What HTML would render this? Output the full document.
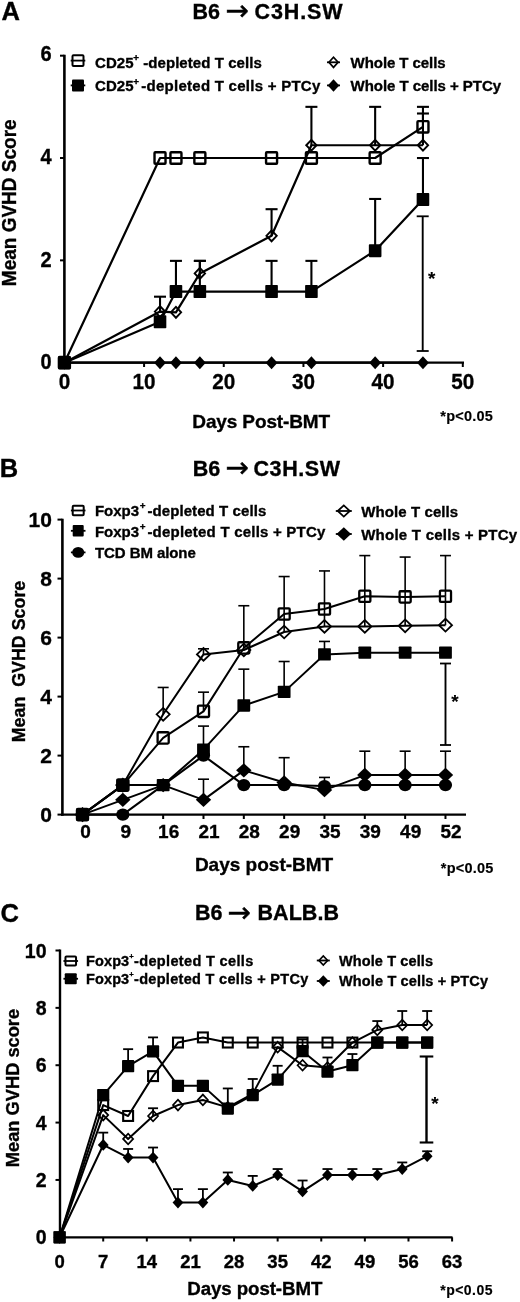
<!DOCTYPE html>
<html><head><meta charset="utf-8"><title>GVHD figure</title>
<style>html,body{margin:0;padding:0;background:#fff}svg{display:block}</style></head><body>
<svg width="520" height="1302" viewBox="0 0 520 1302" font-family="Liberation Sans, Arial, sans-serif" font-weight="bold" fill="#000">
<defs><filter id="soft" x="0" y="0" width="100%" height="100%" filterUnits="userSpaceOnUse"><feGaussianBlur stdDeviation="0.45"/></filter></defs>
<rect width="520" height="1302" fill="#fff"/>
<g filter="url(#soft)">
<g id="panelA">
<text transform="translate(1.50,20.00)" font-size="25.5" text-anchor="start" stroke="#000" stroke-width="0.35" >A</text>
<text y="18.80" font-size="21.5" stroke="#000" stroke-width="0.35"><tspan x="192.60">B6</tspan><tspan x="225.50" dy="1.2" font-family="DejaVu Sans, sans-serif" font-weight="normal" font-size="27.9" stroke-width="0.5">→</tspan><tspan x="254.60" dy="-1.2" textLength="87.9" lengthAdjust="spacing">C3H.SW</tspan></text>
<line x1="64.40" y1="54.80" x2="64.40" y2="363.80" stroke="#000" stroke-width="2.6" />
<line x1="63.10" y1="362.70" x2="464.00" y2="362.70" stroke="#000" stroke-width="2.2" />
<line x1="60.00" y1="362.70" x2="64.40" y2="362.70" stroke="#000" stroke-width="2" />
<text transform="translate(51.60,368.90) scale(0.93,1)" font-size="21.5" text-anchor="end" stroke="#000" stroke-width="0.35" >0</text>
<line x1="60.00" y1="260.36" x2="64.40" y2="260.36" stroke="#000" stroke-width="2" />
<text transform="translate(51.60,266.56) scale(0.93,1)" font-size="21.5" text-anchor="end" stroke="#000" stroke-width="0.35" >2</text>
<line x1="60.00" y1="158.02" x2="64.40" y2="158.02" stroke="#000" stroke-width="2" />
<text transform="translate(51.60,164.22) scale(0.93,1)" font-size="21.5" text-anchor="end" stroke="#000" stroke-width="0.35" >4</text>
<line x1="60.00" y1="55.68" x2="64.40" y2="55.68" stroke="#000" stroke-width="2" />
<text transform="translate(51.60,61.20) scale(0.93,1)" font-size="21.5" text-anchor="end" stroke="#000" stroke-width="0.35" >6</text>
<line x1="64.40" y1="362.70" x2="64.40" y2="367.00" stroke="#000" stroke-width="2" />
<text transform="translate(64.40,389.10) scale(0.94,1)" font-size="22" text-anchor="middle" stroke="#000" stroke-width="0.35" >0</text>
<line x1="144.08" y1="362.70" x2="144.08" y2="367.00" stroke="#000" stroke-width="2" />
<text transform="translate(144.08,389.10) scale(0.94,1)" font-size="22" text-anchor="middle" stroke="#000" stroke-width="0.35" >10</text>
<line x1="223.76" y1="362.70" x2="223.76" y2="367.00" stroke="#000" stroke-width="2" />
<text transform="translate(223.76,389.10) scale(0.94,1)" font-size="22" text-anchor="middle" stroke="#000" stroke-width="0.35" >20</text>
<line x1="303.44" y1="362.70" x2="303.44" y2="367.00" stroke="#000" stroke-width="2" />
<text transform="translate(303.44,389.10) scale(0.94,1)" font-size="22" text-anchor="middle" stroke="#000" stroke-width="0.35" >30</text>
<line x1="383.12" y1="362.70" x2="383.12" y2="367.00" stroke="#000" stroke-width="2" />
<text transform="translate(383.12,389.10) scale(0.94,1)" font-size="22" text-anchor="middle" stroke="#000" stroke-width="0.35" >40</text>
<line x1="462.80" y1="362.70" x2="462.80" y2="367.00" stroke="#000" stroke-width="2" />
<text transform="translate(462.80,389.10) scale(0.94,1)" font-size="22" text-anchor="middle" stroke="#000" stroke-width="0.35" >50</text>
<text transform="translate(16.10,202.80) rotate(-90) scale(0.95,1)" font-size="20" text-anchor="middle" textLength="175.58" lengthAdjust="spacing" stroke="#000" stroke-width="0.35" >Mean GVHD Score</text>
<text transform="translate(192.30,427.60)" font-size="19" text-anchor="start" textLength="137.80" lengthAdjust="spacing" stroke="#000" stroke-width="0.35" >Days Post-BMT</text>
<text transform="translate(440.30,420.80)" font-size="14.5" text-anchor="start" textLength="52.60" lengthAdjust="spacing" stroke="#000" stroke-width="0.15" >*p&lt;0.05</text>
<polyline points="64.40,362.70 160.02,362.70 175.95,362.70 199.86,362.70 271.57,362.70 311.41,362.70 375.15,362.70 422.96,362.70" fill="none" stroke="#000" stroke-width="2.2" stroke-linejoin="round"/>
<polygon points="58.50,362.70 64.40,356.20 70.30,362.70 64.40,369.20" fill="#000"/>
<polygon points="154.12,362.70 160.02,356.20 165.92,362.70 160.02,369.20" fill="#000"/>
<polygon points="170.05,362.70 175.95,356.20 181.85,362.70 175.95,369.20" fill="#000"/>
<polygon points="193.96,362.70 199.86,356.20 205.76,362.70 199.86,369.20" fill="#000"/>
<polygon points="265.67,362.70 271.57,356.20 277.47,362.70 271.57,369.20" fill="#000"/>
<polygon points="305.51,362.70 311.41,356.20 317.31,362.70 311.41,369.20" fill="#000"/>
<polygon points="369.25,362.70 375.15,356.20 381.05,362.70 375.15,369.20" fill="#000"/>
<polygon points="417.06,362.70 422.96,356.20 428.86,362.70 422.96,369.20" fill="#000"/>
<line x1="422.96" y1="126.81" x2="422.96" y2="106.85" stroke="#000" stroke-width="2.1" />
<line x1="416.96" y1="106.85" x2="428.96" y2="106.85" stroke="#000" stroke-width="2.1" />
<polyline points="64.40,362.70 160.02,158.02 175.95,158.02 199.86,158.02 271.57,158.02 311.41,158.02 375.15,158.02 422.96,126.81" fill="none" stroke="#000" stroke-width="2.2" stroke-linejoin="round"/>
<rect x="58.90" y="357.00" width="11.00" height="11.40" rx="0.8" fill="none" stroke="#000" stroke-width="2.4"/>
<rect x="154.52" y="152.32" width="11.00" height="11.40" rx="0.8" fill="none" stroke="#000" stroke-width="2.4"/>
<rect x="170.45" y="152.32" width="11.00" height="11.40" rx="0.8" fill="none" stroke="#000" stroke-width="2.4"/>
<rect x="194.36" y="152.32" width="11.00" height="11.40" rx="0.8" fill="none" stroke="#000" stroke-width="2.4"/>
<rect x="266.07" y="152.32" width="11.00" height="11.40" rx="0.8" fill="none" stroke="#000" stroke-width="2.4"/>
<rect x="305.91" y="152.32" width="11.00" height="11.40" rx="0.8" fill="none" stroke="#000" stroke-width="2.4"/>
<rect x="369.65" y="152.32" width="11.00" height="11.40" rx="0.8" fill="none" stroke="#000" stroke-width="2.4"/>
<rect x="417.46" y="121.11" width="11.00" height="11.40" rx="0.8" fill="none" stroke="#000" stroke-width="2.4"/>
<line x1="160.02" y1="311.53" x2="160.02" y2="296.69" stroke="#000" stroke-width="2.1" />
<line x1="154.02" y1="296.69" x2="166.02" y2="296.69" stroke="#000" stroke-width="2.1" />
<line x1="199.86" y1="273.41" x2="199.86" y2="260.87" stroke="#000" stroke-width="2.1" />
<line x1="193.86" y1="260.87" x2="205.86" y2="260.87" stroke="#000" stroke-width="2.1" />
<line x1="271.57" y1="235.80" x2="271.57" y2="209.19" stroke="#000" stroke-width="2.1" />
<line x1="265.57" y1="209.19" x2="277.57" y2="209.19" stroke="#000" stroke-width="2.1" />
<line x1="311.41" y1="145.23" x2="311.41" y2="106.85" stroke="#000" stroke-width="2.1" />
<line x1="305.41" y1="106.85" x2="317.41" y2="106.85" stroke="#000" stroke-width="2.1" />
<line x1="375.15" y1="145.23" x2="375.15" y2="106.85" stroke="#000" stroke-width="2.1" />
<line x1="369.15" y1="106.85" x2="381.15" y2="106.85" stroke="#000" stroke-width="2.1" />
<line x1="422.96" y1="145.23" x2="422.96" y2="113.50" stroke="#000" stroke-width="2.1" />
<line x1="416.96" y1="113.50" x2="428.96" y2="113.50" stroke="#000" stroke-width="2.1" />
<polyline points="64.40,362.70 160.02,311.53 175.95,312.30 199.86,273.41 271.57,235.80 311.41,145.23 375.15,145.23 422.96,145.23" fill="none" stroke="#000" stroke-width="2.2" stroke-linejoin="round"/>
<polygon points="59.23,362.70 64.40,357.23 69.57,362.70 64.40,368.17" fill="none" stroke="#000" stroke-width="1.9"/>
<polygon points="154.85,311.53 160.02,306.06 165.19,311.53 160.02,317.00" fill="none" stroke="#000" stroke-width="1.9"/>
<polygon points="170.78,312.30 175.95,306.83 181.12,312.30 175.95,317.77" fill="none" stroke="#000" stroke-width="1.9"/>
<polygon points="194.69,273.41 199.86,267.94 205.03,273.41 199.86,278.88" fill="none" stroke="#000" stroke-width="1.9"/>
<polygon points="266.40,235.80 271.57,230.33 276.74,235.80 271.57,241.27" fill="none" stroke="#000" stroke-width="1.9"/>
<polygon points="306.24,145.23 311.41,139.76 316.58,145.23 311.41,150.70" fill="none" stroke="#000" stroke-width="1.9"/>
<polygon points="369.98,145.23 375.15,139.76 380.32,145.23 375.15,150.70" fill="none" stroke="#000" stroke-width="1.9"/>
<polygon points="417.79,145.23 422.96,139.76 428.13,145.23 422.96,150.70" fill="none" stroke="#000" stroke-width="1.9"/>
<line x1="175.95" y1="291.57" x2="175.95" y2="260.87" stroke="#000" stroke-width="2.1" />
<line x1="169.95" y1="260.87" x2="181.95" y2="260.87" stroke="#000" stroke-width="2.1" />
<line x1="199.86" y1="291.57" x2="199.86" y2="260.87" stroke="#000" stroke-width="2.1" />
<line x1="193.86" y1="260.87" x2="205.86" y2="260.87" stroke="#000" stroke-width="2.1" />
<line x1="271.57" y1="291.57" x2="271.57" y2="260.87" stroke="#000" stroke-width="2.1" />
<line x1="265.57" y1="260.87" x2="277.57" y2="260.87" stroke="#000" stroke-width="2.1" />
<line x1="311.41" y1="291.57" x2="311.41" y2="260.87" stroke="#000" stroke-width="2.1" />
<line x1="305.41" y1="260.87" x2="317.41" y2="260.87" stroke="#000" stroke-width="2.1" />
<line x1="375.15" y1="250.64" x2="375.15" y2="198.96" stroke="#000" stroke-width="2.1" />
<line x1="369.15" y1="198.96" x2="381.15" y2="198.96" stroke="#000" stroke-width="2.1" />
<line x1="422.96" y1="199.47" x2="422.96" y2="158.02" stroke="#000" stroke-width="2.1" />
<line x1="416.96" y1="158.02" x2="428.96" y2="158.02" stroke="#000" stroke-width="2.1" />
<polyline points="64.40,362.70 160.02,321.76 175.95,291.57 199.86,291.57 271.57,291.57 311.41,291.57 375.15,250.64 422.96,199.47" fill="none" stroke="#000" stroke-width="2.2" stroke-linejoin="round"/>
<rect x="58.10" y="356.20" width="12.60" height="13.00" rx="0.8" fill="#000"/>
<rect x="153.72" y="315.26" width="12.60" height="13.00" rx="0.8" fill="#000"/>
<rect x="169.65" y="285.07" width="12.60" height="13.00" rx="0.8" fill="#000"/>
<rect x="193.56" y="285.07" width="12.60" height="13.00" rx="0.8" fill="#000"/>
<rect x="265.27" y="285.07" width="12.60" height="13.00" rx="0.8" fill="#000"/>
<rect x="305.11" y="285.07" width="12.60" height="13.00" rx="0.8" fill="#000"/>
<rect x="368.85" y="244.14" width="12.60" height="13.00" rx="0.8" fill="#000"/>
<rect x="416.66" y="192.97" width="12.60" height="13.00" rx="0.8" fill="#000"/>
<line x1="422.70" y1="216.30" x2="422.70" y2="351.00" stroke="#000" stroke-width="1.9" />
<line x1="416.70" y1="216.30" x2="428.70" y2="216.30" stroke="#000" stroke-width="1.8" />
<line x1="416.70" y1="351.00" x2="428.70" y2="351.00" stroke="#000" stroke-width="1.8" />
<text transform="translate(431.70,284.50)" font-size="19" text-anchor="middle" stroke="#000" stroke-width="0.1" >*</text>
<line x1="70.70" y1="60.60" x2="85.30" y2="60.60" stroke="#000" stroke-width="1.8" />
<rect x="72.50" y="55.20" width="11.00" height="10.80" rx="1" fill="none" stroke="#000" stroke-width="2.0"/>
<line x1="70.70" y1="85.40" x2="85.30" y2="85.40" stroke="#000" stroke-width="1.8" />
<rect x="72.00" y="79.40" width="12.00" height="12.00" rx="1" fill="#000"/>
<line x1="327.00" y1="62.30" x2="340.00" y2="62.30" stroke="#000" stroke-width="1.8" />
<polygon points="328.94,62.30 333.50,57.24 338.06,62.30 333.50,67.36" fill="none" stroke="#000" stroke-width="1.7"/>
<line x1="327.00" y1="85.40" x2="340.00" y2="85.40" stroke="#000" stroke-width="1.8" />
<polygon points="327.75,85.40 333.50,79.15 339.25,85.40 333.50,91.65" fill="#000"/>
<text y="67.5" font-size="15" stroke="#000" stroke-width="0.35"><tspan x="95" textLength="38.5" lengthAdjust="spacing">CD25</tspan><tspan x="133.3" dy="-6.5" font-size="9.9">+</tspan><tspan x="143.2" dy="6.5" textLength="118.6" lengthAdjust="spacing">-depleted T cells</tspan></text>
<text y="91" font-size="15" stroke="#000" stroke-width="0.35"><tspan x="95" textLength="38.5" lengthAdjust="spacing">CD25</tspan><tspan x="133.3" dy="-6.5" font-size="9.9">+</tspan><tspan x="141.3" dy="6.5" textLength="179.0" lengthAdjust="spacing">-depleted T cells + PTCy</tspan></text>
<text transform="translate(350.60,67.50)" font-size="15" text-anchor="start" textLength="95.00" lengthAdjust="spacing" stroke="#000" stroke-width="0.35" >Whole T cells</text>
<text transform="translate(350.60,91.00)" font-size="15" text-anchor="start" textLength="150.50" lengthAdjust="spacing" stroke="#000" stroke-width="0.35" >Whole T cells + PTCy</text>
</g>
<g id="panelB">
<text transform="translate(-0.30,477.40)" font-size="25.5" text-anchor="start" stroke="#000" stroke-width="0.35" >B</text>
<text y="476.00" font-size="21.5" stroke="#000" stroke-width="0.35"><tspan x="192.80">B6</tspan><tspan x="225.50" dy="1.2" font-family="DejaVu Sans, sans-serif" font-weight="normal" font-size="27.9" stroke-width="0.5">→</tspan><tspan x="253.50" dy="-1.2" textLength="86.5" lengthAdjust="spacing">C3H.SW</tspan></text>
<line x1="62.40" y1="518.70" x2="62.40" y2="815.70" stroke="#000" stroke-width="2.6" />
<line x1="61.10" y1="814.60" x2="466.00" y2="814.60" stroke="#000" stroke-width="2.2" />
<line x1="57.50" y1="814.60" x2="62.40" y2="814.60" stroke="#000" stroke-width="2" />
<text transform="translate(51.90,822.20)" font-size="21" text-anchor="end" stroke="#000" stroke-width="0.35" >0</text>
<line x1="57.50" y1="755.60" x2="62.40" y2="755.60" stroke="#000" stroke-width="2" />
<text transform="translate(51.90,763.20)" font-size="21" text-anchor="end" stroke="#000" stroke-width="0.35" >2</text>
<line x1="57.50" y1="696.60" x2="62.40" y2="696.60" stroke="#000" stroke-width="2" />
<text transform="translate(51.90,704.20)" font-size="21" text-anchor="end" stroke="#000" stroke-width="0.35" >4</text>
<line x1="57.50" y1="637.60" x2="62.40" y2="637.60" stroke="#000" stroke-width="2" />
<text transform="translate(51.90,645.20)" font-size="21" text-anchor="end" stroke="#000" stroke-width="0.35" >6</text>
<line x1="57.50" y1="578.60" x2="62.40" y2="578.60" stroke="#000" stroke-width="2" />
<text transform="translate(51.90,586.20)" font-size="21" text-anchor="end" stroke="#000" stroke-width="0.35" >8</text>
<line x1="57.50" y1="519.60" x2="62.40" y2="519.60" stroke="#000" stroke-width="2" />
<text transform="translate(51.90,527.20)" font-size="21" text-anchor="end" stroke="#000" stroke-width="0.35" >10</text>
<line x1="82.50" y1="814.60" x2="82.50" y2="819.00" stroke="#000" stroke-width="2" />
<text transform="translate(85.50,838.30)" font-size="19" text-anchor="middle" stroke="#000" stroke-width="0.35" >0</text>
<line x1="122.83" y1="814.60" x2="122.83" y2="819.00" stroke="#000" stroke-width="2" />
<text transform="translate(125.83,838.30)" font-size="19" text-anchor="middle" stroke="#000" stroke-width="0.35" >9</text>
<line x1="163.16" y1="814.60" x2="163.16" y2="819.00" stroke="#000" stroke-width="2" />
<text transform="translate(168.66,838.30)" font-size="19" text-anchor="middle" stroke="#000" stroke-width="0.35" >16</text>
<line x1="203.49" y1="814.60" x2="203.49" y2="819.00" stroke="#000" stroke-width="2" />
<text transform="translate(208.99,838.30)" font-size="19" text-anchor="middle" stroke="#000" stroke-width="0.35" >21</text>
<line x1="243.82" y1="814.60" x2="243.82" y2="819.00" stroke="#000" stroke-width="2" />
<text transform="translate(249.32,838.30)" font-size="19" text-anchor="middle" stroke="#000" stroke-width="0.35" >28</text>
<line x1="284.15" y1="814.60" x2="284.15" y2="819.00" stroke="#000" stroke-width="2" />
<text transform="translate(289.65,838.30)" font-size="19" text-anchor="middle" stroke="#000" stroke-width="0.35" >29</text>
<line x1="324.48" y1="814.60" x2="324.48" y2="819.00" stroke="#000" stroke-width="2" />
<text transform="translate(329.98,838.30)" font-size="19" text-anchor="middle" stroke="#000" stroke-width="0.35" >35</text>
<line x1="364.81" y1="814.60" x2="364.81" y2="819.00" stroke="#000" stroke-width="2" />
<text transform="translate(370.31,838.30)" font-size="19" text-anchor="middle" stroke="#000" stroke-width="0.35" >39</text>
<line x1="405.14" y1="814.60" x2="405.14" y2="819.00" stroke="#000" stroke-width="2" />
<text transform="translate(410.64,838.30)" font-size="19" text-anchor="middle" stroke="#000" stroke-width="0.35" >49</text>
<line x1="445.47" y1="814.60" x2="445.47" y2="819.00" stroke="#000" stroke-width="2" />
<text transform="translate(450.97,838.30)" font-size="19" text-anchor="middle" stroke="#000" stroke-width="0.35" >52</text>
<text transform="translate(24.60,661.50) rotate(-90)" font-size="17.8" text-anchor="middle" textLength="161.50" lengthAdjust="spacing" stroke="#000" stroke-width="0.35" >Mean&#160; GVHD Score</text>
<text transform="translate(194.90,870.50)" font-size="19" text-anchor="start" textLength="138.30" lengthAdjust="spacing" stroke="#000" stroke-width="0.35" >Days post-BMT</text>
<text transform="translate(440.80,872.80)" font-size="14.5" text-anchor="start" textLength="52.60" lengthAdjust="spacing" stroke="#000" stroke-width="0.15" >*p&lt;0.05</text>
<polyline points="82.50,814.60 122.83,814.60 163.16,785.10 203.49,755.60 243.82,785.10 284.15,785.10 324.48,785.99 364.81,785.10 405.14,785.10 445.47,785.10" fill="none" stroke="#000" stroke-width="2" stroke-linejoin="round"/>
<ellipse cx="82.50" cy="814.60" rx="6.60" ry="6.10" fill="#000"/>
<ellipse cx="122.83" cy="814.60" rx="6.60" ry="6.10" fill="#000"/>
<ellipse cx="163.16" cy="785.10" rx="6.60" ry="6.10" fill="#000"/>
<ellipse cx="203.49" cy="755.60" rx="6.60" ry="6.10" fill="#000"/>
<ellipse cx="243.82" cy="785.10" rx="6.60" ry="6.10" fill="#000"/>
<ellipse cx="284.15" cy="785.10" rx="6.60" ry="6.10" fill="#000"/>
<ellipse cx="324.48" cy="785.99" rx="6.60" ry="6.10" fill="#000"/>
<ellipse cx="364.81" cy="785.10" rx="6.60" ry="6.10" fill="#000"/>
<ellipse cx="405.14" cy="785.10" rx="6.60" ry="6.10" fill="#000"/>
<ellipse cx="445.47" cy="785.10" rx="6.60" ry="6.10" fill="#000"/>
<line x1="203.49" y1="799.85" x2="203.49" y2="779.20" stroke="#000" stroke-width="1.6" />
<line x1="197.99" y1="779.20" x2="208.99" y2="779.20" stroke="#000" stroke-width="1.6" />
<line x1="243.82" y1="770.35" x2="243.82" y2="746.75" stroke="#000" stroke-width="1.6" />
<line x1="238.32" y1="746.75" x2="249.32" y2="746.75" stroke="#000" stroke-width="1.6" />
<line x1="284.15" y1="782.45" x2="284.15" y2="757.67" stroke="#000" stroke-width="1.6" />
<line x1="278.65" y1="757.67" x2="289.65" y2="757.67" stroke="#000" stroke-width="1.6" />
<line x1="324.48" y1="790.12" x2="324.48" y2="777.43" stroke="#000" stroke-width="1.6" />
<line x1="318.98" y1="777.43" x2="329.98" y2="777.43" stroke="#000" stroke-width="1.6" />
<line x1="364.81" y1="775.07" x2="364.81" y2="751.18" stroke="#000" stroke-width="1.6" />
<line x1="359.31" y1="751.18" x2="370.31" y2="751.18" stroke="#000" stroke-width="1.6" />
<line x1="405.14" y1="775.07" x2="405.14" y2="751.18" stroke="#000" stroke-width="1.6" />
<line x1="399.64" y1="751.18" x2="410.64" y2="751.18" stroke="#000" stroke-width="1.6" />
<line x1="445.47" y1="775.07" x2="445.47" y2="751.18" stroke="#000" stroke-width="1.6" />
<line x1="439.97" y1="751.18" x2="450.97" y2="751.18" stroke="#000" stroke-width="1.6" />
<polyline points="82.50,814.60 122.83,799.85 163.16,785.10 203.49,799.85 243.82,770.35 284.15,782.45 324.48,790.12 364.81,775.07 405.14,775.07 445.47,775.07" fill="none" stroke="#000" stroke-width="2" stroke-linejoin="round"/>
<polygon points="74.80,814.60 82.50,807.40 90.20,814.60 82.50,821.80" fill="#000"/>
<polygon points="115.13,799.85 122.83,792.65 130.53,799.85 122.83,807.05" fill="#000"/>
<polygon points="155.46,785.10 163.16,777.90 170.86,785.10 163.16,792.30" fill="#000"/>
<polygon points="195.79,799.85 203.49,792.65 211.19,799.85 203.49,807.05" fill="#000"/>
<polygon points="236.12,770.35 243.82,763.15 251.52,770.35 243.82,777.55" fill="#000"/>
<polygon points="276.45,782.45 284.15,775.25 291.85,782.45 284.15,789.65" fill="#000"/>
<polygon points="316.78,790.12 324.48,782.91 332.18,790.12 324.48,797.32" fill="#000"/>
<polygon points="357.11,775.07 364.81,767.87 372.51,775.07 364.81,782.27" fill="#000"/>
<polygon points="397.44,775.07 405.14,767.87 412.84,775.07 405.14,782.27" fill="#000"/>
<polygon points="437.77,775.07 445.47,767.87 453.17,775.07 445.47,782.27" fill="#000"/>
<line x1="203.49" y1="749.70" x2="203.49" y2="726.10" stroke="#000" stroke-width="1.6" />
<line x1="197.99" y1="726.10" x2="208.99" y2="726.10" stroke="#000" stroke-width="1.6" />
<line x1="243.82" y1="705.45" x2="243.82" y2="669.16" stroke="#000" stroke-width="1.6" />
<line x1="238.32" y1="669.16" x2="249.32" y2="669.16" stroke="#000" stroke-width="1.6" />
<line x1="284.15" y1="691.88" x2="284.15" y2="661.50" stroke="#000" stroke-width="1.6" />
<line x1="278.65" y1="661.50" x2="289.65" y2="661.50" stroke="#000" stroke-width="1.6" />
<line x1="324.48" y1="654.41" x2="324.48" y2="641.44" stroke="#000" stroke-width="1.6" />
<line x1="318.98" y1="641.44" x2="329.98" y2="641.44" stroke="#000" stroke-width="1.6" />
<polyline points="82.50,814.60 122.83,785.10 163.16,785.10 203.49,749.70 243.82,705.45 284.15,691.88 324.48,654.41 364.81,652.64 405.14,652.64 445.47,652.64" fill="none" stroke="#000" stroke-width="2" stroke-linejoin="round"/>
<rect x="76.10" y="808.40" width="12.80" height="12.40" rx="0.8" fill="#000"/>
<rect x="116.43" y="778.90" width="12.80" height="12.40" rx="0.8" fill="#000"/>
<rect x="156.76" y="778.90" width="12.80" height="12.40" rx="0.8" fill="#000"/>
<rect x="197.09" y="743.50" width="12.80" height="12.40" rx="0.8" fill="#000"/>
<rect x="237.42" y="699.25" width="12.80" height="12.40" rx="0.8" fill="#000"/>
<rect x="277.75" y="685.68" width="12.80" height="12.40" rx="0.8" fill="#000"/>
<rect x="318.08" y="648.21" width="12.80" height="12.40" rx="0.8" fill="#000"/>
<rect x="358.41" y="646.44" width="12.80" height="12.40" rx="0.8" fill="#000"/>
<rect x="398.74" y="646.44" width="12.80" height="12.40" rx="0.8" fill="#000"/>
<rect x="439.07" y="646.44" width="12.80" height="12.40" rx="0.8" fill="#000"/>
<line x1="163.16" y1="714.30" x2="163.16" y2="687.46" stroke="#000" stroke-width="1.6" />
<line x1="157.66" y1="687.46" x2="168.66" y2="687.46" stroke="#000" stroke-width="1.6" />
<line x1="203.49" y1="654.41" x2="203.49" y2="648.81" stroke="#000" stroke-width="1.6" />
<line x1="197.99" y1="648.81" x2="208.99" y2="648.81" stroke="#000" stroke-width="1.6" />
<polyline points="82.50,814.60 122.83,785.10 163.16,714.30 203.49,654.41 243.82,649.99 284.15,632.00 324.48,626.39 364.81,626.39 405.14,625.80 445.47,625.21" fill="none" stroke="#000" stroke-width="2" stroke-linejoin="round"/>
<polygon points="75.96,814.60 82.50,808.26 89.04,814.60 82.50,820.94" fill="none" stroke="#000" stroke-width="1.8"/>
<polygon points="116.29,785.10 122.83,778.76 129.37,785.10 122.83,791.44" fill="none" stroke="#000" stroke-width="1.8"/>
<polygon points="156.62,714.30 163.16,707.96 169.70,714.30 163.16,720.64" fill="none" stroke="#000" stroke-width="1.8"/>
<polygon points="196.95,654.41 203.49,648.07 210.03,654.41 203.49,660.75" fill="none" stroke="#000" stroke-width="1.8"/>
<polygon points="237.28,649.99 243.82,643.65 250.36,649.99 243.82,656.33" fill="none" stroke="#000" stroke-width="1.8"/>
<polygon points="277.61,632.00 284.15,625.65 290.69,632.00 284.15,638.34" fill="none" stroke="#000" stroke-width="1.8"/>
<polygon points="317.94,626.39 324.48,620.05 331.02,626.39 324.48,632.73" fill="none" stroke="#000" stroke-width="1.8"/>
<polygon points="358.27,626.39 364.81,620.05 371.35,626.39 364.81,632.73" fill="none" stroke="#000" stroke-width="1.8"/>
<polygon points="398.60,625.80 405.14,619.46 411.68,625.80 405.14,632.14" fill="none" stroke="#000" stroke-width="1.8"/>
<polygon points="438.93,625.21 445.47,618.87 452.01,625.21 445.47,631.55" fill="none" stroke="#000" stroke-width="1.8"/>
<line x1="284.15" y1="632.00" x2="284.15" y2="614.00" stroke="#000" stroke-width="1.6" />
<line x1="324.48" y1="626.39" x2="324.48" y2="608.99" stroke="#000" stroke-width="1.6" />
<line x1="364.81" y1="626.39" x2="364.81" y2="596.30" stroke="#000" stroke-width="1.6" />
<line x1="405.14" y1="625.80" x2="405.14" y2="596.89" stroke="#000" stroke-width="1.6" />
<line x1="445.47" y1="625.21" x2="445.47" y2="596.30" stroke="#000" stroke-width="1.6" />
<line x1="203.49" y1="711.35" x2="203.49" y2="692.17" stroke="#000" stroke-width="1.6" />
<line x1="197.99" y1="692.17" x2="208.99" y2="692.17" stroke="#000" stroke-width="1.6" />
<line x1="243.82" y1="647.92" x2="243.82" y2="605.74" stroke="#000" stroke-width="1.6" />
<line x1="238.32" y1="605.74" x2="249.32" y2="605.74" stroke="#000" stroke-width="1.6" />
<line x1="284.15" y1="614.00" x2="284.15" y2="576.54" stroke="#000" stroke-width="1.6" />
<line x1="278.65" y1="576.54" x2="289.65" y2="576.54" stroke="#000" stroke-width="1.6" />
<line x1="324.48" y1="608.99" x2="324.48" y2="570.93" stroke="#000" stroke-width="1.6" />
<line x1="318.98" y1="570.93" x2="329.98" y2="570.93" stroke="#000" stroke-width="1.6" />
<line x1="364.81" y1="596.30" x2="364.81" y2="555.59" stroke="#000" stroke-width="1.6" />
<line x1="359.31" y1="555.59" x2="370.31" y2="555.59" stroke="#000" stroke-width="1.6" />
<line x1="405.14" y1="596.89" x2="405.14" y2="557.07" stroke="#000" stroke-width="1.6" />
<line x1="399.64" y1="557.07" x2="410.64" y2="557.07" stroke="#000" stroke-width="1.6" />
<line x1="445.47" y1="596.30" x2="445.47" y2="555.59" stroke="#000" stroke-width="1.6" />
<line x1="439.97" y1="555.59" x2="450.97" y2="555.59" stroke="#000" stroke-width="1.6" />
<polyline points="82.50,814.60 122.83,785.10 163.16,737.90 203.49,711.35 243.82,647.92 284.15,614.00 324.48,608.99 364.81,596.30 405.14,596.89 445.47,596.30" fill="none" stroke="#000" stroke-width="2" stroke-linejoin="round"/>
<rect x="76.95" y="808.95" width="11.10" height="11.30" rx="1" fill="none" stroke="#000" stroke-width="2.3"/>
<rect x="117.28" y="779.45" width="11.10" height="11.30" rx="1" fill="none" stroke="#000" stroke-width="2.3"/>
<rect x="157.61" y="732.25" width="11.10" height="11.30" rx="1" fill="none" stroke="#000" stroke-width="2.3"/>
<rect x="197.94" y="705.70" width="11.10" height="11.30" rx="1" fill="none" stroke="#000" stroke-width="2.3"/>
<rect x="238.27" y="642.27" width="11.10" height="11.30" rx="1" fill="none" stroke="#000" stroke-width="2.3"/>
<rect x="278.60" y="608.35" width="11.10" height="11.30" rx="1" fill="none" stroke="#000" stroke-width="2.3"/>
<rect x="318.93" y="603.34" width="11.10" height="11.30" rx="1" fill="none" stroke="#000" stroke-width="2.3"/>
<rect x="359.26" y="590.65" width="11.10" height="11.30" rx="1" fill="none" stroke="#000" stroke-width="2.3"/>
<rect x="399.59" y="591.24" width="11.10" height="11.30" rx="1" fill="none" stroke="#000" stroke-width="2.3"/>
<rect x="439.92" y="590.65" width="11.10" height="11.30" rx="1" fill="none" stroke="#000" stroke-width="2.3"/>
<line x1="445.50" y1="663.50" x2="445.50" y2="745.00" stroke="#000" stroke-width="1.9" />
<line x1="440.00" y1="663.50" x2="451.00" y2="663.50" stroke="#000" stroke-width="1.8" />
<line x1="440.00" y1="745.00" x2="451.00" y2="745.00" stroke="#000" stroke-width="1.8" />
<text transform="translate(455.00,707.50)" font-size="19" text-anchor="middle" stroke="#000" stroke-width="0.1" >*</text>
<line x1="70.90" y1="510.50" x2="85.50" y2="510.50" stroke="#000" stroke-width="1.8" />
<rect x="72.70" y="505.75" width="11.00" height="9.50" rx="1" fill="none" stroke="#000" stroke-width="2.0"/>
<line x1="70.90" y1="530.80" x2="85.50" y2="530.80" stroke="#000" stroke-width="1.8" />
<rect x="72.70" y="525.05" width="11.00" height="11.50" rx="1" fill="#000"/>
<line x1="70.90" y1="552.40" x2="85.50" y2="552.40" stroke="#000" stroke-width="1.8" />
<ellipse cx="78.20" cy="552.40" rx="6.00" ry="5.35" fill="#000"/>
<line x1="335.80" y1="511.00" x2="351.80" y2="511.00" stroke="#000" stroke-width="1.8" />
<polygon points="337.74,511.00 343.80,505.44 349.86,511.00 343.80,516.56" fill="none" stroke="#000" stroke-width="1.7"/>
<line x1="335.80" y1="534.00" x2="351.80" y2="534.00" stroke="#000" stroke-width="1.8" />
<polygon points="336.55,534.00 343.80,527.25 351.05,534.00 343.80,540.75" fill="#000"/>
<text y="516.3" font-size="15" stroke="#000" stroke-width="0.35"><tspan x="95" textLength="44.0" lengthAdjust="spacing">Foxp3</tspan><tspan x="139.7" dy="-7.5" font-size="9.9">+</tspan><tspan x="147.4" dy="7.5" textLength="118.9" lengthAdjust="spacing">-depleted T cells</tspan></text>
<text y="537" font-size="15" stroke="#000" stroke-width="0.35"><tspan x="95" textLength="44.0" lengthAdjust="spacing">Foxp3</tspan><tspan x="139.7" dy="-7.5" font-size="9.9">+</tspan><tspan x="147.4" dy="7.5" textLength="177.9" lengthAdjust="spacing">-depleted T cells + PTCy</tspan></text>
<text transform="translate(95.00,557.70)" font-size="15" text-anchor="start" textLength="100.80" lengthAdjust="spacing" stroke="#000" stroke-width="0.35" >TCD BM alone</text>
<text transform="translate(361.20,516.60)" font-size="15" text-anchor="start" textLength="97.00" lengthAdjust="spacing" stroke="#000" stroke-width="0.35" >Whole T cells</text>
<text transform="translate(361.20,539.60)" font-size="15" text-anchor="start" textLength="156.00" lengthAdjust="spacing" stroke="#000" stroke-width="0.35" >Whole T cells + PTCy</text>
</g>
<g id="panelC">
<text transform="translate(0.50,921.70)" font-size="25.5" text-anchor="start" stroke="#000" stroke-width="0.35" >C</text>
<text y="920.30" font-size="21.5" stroke="#000" stroke-width="0.35"><tspan x="195.00">B6</tspan><tspan x="227.50" dy="1.2" font-family="DejaVu Sans, sans-serif" font-weight="normal" font-size="27.9" stroke-width="0.5">→</tspan><tspan x="257.50" dy="-1.2" textLength="81.5" lengthAdjust="spacing">BALB.B</tspan></text>
<line x1="60.00" y1="949.50" x2="60.00" y2="1238.40" stroke="#000" stroke-width="2.4" />
<line x1="58.80" y1="1237.30" x2="452.50" y2="1237.30" stroke="#000" stroke-width="2.2" />
<line x1="55.50" y1="1237.30" x2="60.00" y2="1237.30" stroke="#000" stroke-width="2" />
<text transform="translate(46.50,1244.30)" font-size="19.5" text-anchor="end" stroke="#000" stroke-width="0.35" >0</text>
<line x1="55.50" y1="1179.94" x2="60.00" y2="1179.94" stroke="#000" stroke-width="2" />
<text transform="translate(46.50,1186.94)" font-size="19.5" text-anchor="end" stroke="#000" stroke-width="0.35" >2</text>
<line x1="55.50" y1="1122.58" x2="60.00" y2="1122.58" stroke="#000" stroke-width="2" />
<text transform="translate(46.50,1129.58)" font-size="19.5" text-anchor="end" stroke="#000" stroke-width="0.35" >4</text>
<line x1="55.50" y1="1065.22" x2="60.00" y2="1065.22" stroke="#000" stroke-width="2" />
<text transform="translate(46.50,1072.22)" font-size="19.5" text-anchor="end" stroke="#000" stroke-width="0.35" >6</text>
<line x1="55.50" y1="1007.86" x2="60.00" y2="1007.86" stroke="#000" stroke-width="2" />
<text transform="translate(46.50,1014.86)" font-size="19.5" text-anchor="end" stroke="#000" stroke-width="0.35" >8</text>
<line x1="55.50" y1="950.50" x2="60.00" y2="950.50" stroke="#000" stroke-width="2" />
<text transform="translate(46.50,957.50)" font-size="19.5" text-anchor="end" stroke="#000" stroke-width="0.35" >10</text>
<line x1="59.60" y1="1237.30" x2="59.60" y2="1241.50" stroke="#000" stroke-width="2" />
<text transform="translate(59.60,1267.50)" font-size="18.5" text-anchor="middle" stroke="#000" stroke-width="0.35" >0</text>
<line x1="103.21" y1="1237.30" x2="103.21" y2="1241.50" stroke="#000" stroke-width="2" />
<text transform="translate(103.21,1267.50)" font-size="18.5" text-anchor="middle" stroke="#000" stroke-width="0.35" >7</text>
<line x1="146.82" y1="1237.30" x2="146.82" y2="1241.50" stroke="#000" stroke-width="2" />
<text transform="translate(146.82,1267.50)" font-size="18.5" text-anchor="middle" stroke="#000" stroke-width="0.35" >14</text>
<line x1="190.43" y1="1237.30" x2="190.43" y2="1241.50" stroke="#000" stroke-width="2" />
<text transform="translate(190.43,1267.50)" font-size="18.5" text-anchor="middle" stroke="#000" stroke-width="0.35" >21</text>
<line x1="234.04" y1="1237.30" x2="234.04" y2="1241.50" stroke="#000" stroke-width="2" />
<text transform="translate(234.04,1267.50)" font-size="18.5" text-anchor="middle" stroke="#000" stroke-width="0.35" >28</text>
<line x1="277.65" y1="1237.30" x2="277.65" y2="1241.50" stroke="#000" stroke-width="2" />
<text transform="translate(277.65,1267.50)" font-size="18.5" text-anchor="middle" stroke="#000" stroke-width="0.35" >35</text>
<line x1="321.26" y1="1237.30" x2="321.26" y2="1241.50" stroke="#000" stroke-width="2" />
<text transform="translate(321.26,1267.50)" font-size="18.5" text-anchor="middle" stroke="#000" stroke-width="0.35" >42</text>
<line x1="364.87" y1="1237.30" x2="364.87" y2="1241.50" stroke="#000" stroke-width="2" />
<text transform="translate(364.87,1267.50)" font-size="18.5" text-anchor="middle" stroke="#000" stroke-width="0.35" >49</text>
<line x1="408.48" y1="1237.30" x2="408.48" y2="1241.50" stroke="#000" stroke-width="2" />
<text transform="translate(408.48,1267.50)" font-size="18.5" text-anchor="middle" stroke="#000" stroke-width="0.35" >56</text>
<line x1="452.09" y1="1237.30" x2="452.09" y2="1241.50" stroke="#000" stroke-width="2" />
<text transform="translate(452.09,1267.50)" font-size="18.5" text-anchor="middle" stroke="#000" stroke-width="0.35" >63</text>
<text transform="translate(19.00,1088.00) rotate(-90)" font-size="18.3" text-anchor="middle" textLength="158.30" lengthAdjust="spacing" stroke="#000" stroke-width="0.35" >Mean GVHD score</text>
<text transform="translate(187.30,1294.50)" font-size="18.7" text-anchor="start" textLength="135.00" lengthAdjust="spacing" stroke="#000" stroke-width="0.35" >Days post-BMT</text>
<text transform="translate(440.30,1295.30)" font-size="14" text-anchor="start" textLength="52.20" lengthAdjust="spacing" stroke="#000" stroke-width="0.15" >*p&lt;0.05</text>
<line x1="103.21" y1="1144.95" x2="103.21" y2="1132.62" stroke="#000" stroke-width="1.8" />
<line x1="98.21" y1="1132.62" x2="108.21" y2="1132.62" stroke="#000" stroke-width="1.8" />
<line x1="128.13" y1="1157.57" x2="128.13" y2="1148.97" stroke="#000" stroke-width="1.8" />
<line x1="123.13" y1="1148.97" x2="133.13" y2="1148.97" stroke="#000" stroke-width="1.8" />
<line x1="153.05" y1="1157.57" x2="153.05" y2="1147.53" stroke="#000" stroke-width="1.8" />
<line x1="148.05" y1="1147.53" x2="158.05" y2="1147.53" stroke="#000" stroke-width="1.8" />
<line x1="177.97" y1="1202.60" x2="177.97" y2="1189.12" stroke="#000" stroke-width="1.8" />
<line x1="172.97" y1="1189.12" x2="182.97" y2="1189.12" stroke="#000" stroke-width="1.8" />
<line x1="202.89" y1="1202.60" x2="202.89" y2="1189.12" stroke="#000" stroke-width="1.8" />
<line x1="197.89" y1="1189.12" x2="207.89" y2="1189.12" stroke="#000" stroke-width="1.8" />
<line x1="227.81" y1="1179.94" x2="227.81" y2="1172.48" stroke="#000" stroke-width="1.8" />
<line x1="222.81" y1="1172.48" x2="232.81" y2="1172.48" stroke="#000" stroke-width="1.8" />
<line x1="252.73" y1="1185.96" x2="252.73" y2="1175.92" stroke="#000" stroke-width="1.8" />
<line x1="247.73" y1="1175.92" x2="257.73" y2="1175.92" stroke="#000" stroke-width="1.8" />
<line x1="277.65" y1="1175.06" x2="277.65" y2="1169.04" stroke="#000" stroke-width="1.8" />
<line x1="272.65" y1="1169.04" x2="282.65" y2="1169.04" stroke="#000" stroke-width="1.8" />
<line x1="302.57" y1="1191.41" x2="302.57" y2="1180.51" stroke="#000" stroke-width="1.8" />
<line x1="297.57" y1="1180.51" x2="307.57" y2="1180.51" stroke="#000" stroke-width="1.8" />
<line x1="327.49" y1="1175.06" x2="327.49" y2="1169.04" stroke="#000" stroke-width="1.8" />
<line x1="322.49" y1="1169.04" x2="332.49" y2="1169.04" stroke="#000" stroke-width="1.8" />
<line x1="352.41" y1="1175.06" x2="352.41" y2="1169.04" stroke="#000" stroke-width="1.8" />
<line x1="347.41" y1="1169.04" x2="357.41" y2="1169.04" stroke="#000" stroke-width="1.8" />
<line x1="377.33" y1="1175.06" x2="377.33" y2="1169.04" stroke="#000" stroke-width="1.8" />
<line x1="372.33" y1="1169.04" x2="382.33" y2="1169.04" stroke="#000" stroke-width="1.8" />
<line x1="402.25" y1="1169.04" x2="402.25" y2="1162.45" stroke="#000" stroke-width="1.8" />
<line x1="397.25" y1="1162.45" x2="407.25" y2="1162.45" stroke="#000" stroke-width="1.8" />
<line x1="427.17" y1="1156.14" x2="427.17" y2="1151.26" stroke="#000" stroke-width="1.8" />
<line x1="422.17" y1="1151.26" x2="432.17" y2="1151.26" stroke="#000" stroke-width="1.8" />
<polyline points="59.60,1237.30 103.21,1144.95 128.13,1157.57 153.05,1157.57 177.97,1202.60 202.89,1202.60 227.81,1179.94 252.73,1185.96 277.65,1175.06 302.57,1191.41 327.49,1175.06 352.41,1175.06 377.33,1175.06 402.25,1169.04 427.17,1156.14" fill="none" stroke="#000" stroke-width="2" stroke-linejoin="round"/>
<polygon points="54.20,1237.30 59.60,1231.45 65.00,1237.30 59.60,1243.15" fill="#000"/>
<polygon points="97.81,1144.95 103.21,1139.10 108.61,1144.95 103.21,1150.80" fill="#000"/>
<polygon points="122.73,1157.57 128.13,1151.72 133.53,1157.57 128.13,1163.42" fill="#000"/>
<polygon points="147.65,1157.57 153.05,1151.72 158.45,1157.57 153.05,1163.42" fill="#000"/>
<polygon points="172.57,1202.60 177.97,1196.75 183.37,1202.60 177.97,1208.45" fill="#000"/>
<polygon points="197.49,1202.60 202.89,1196.75 208.29,1202.60 202.89,1208.45" fill="#000"/>
<polygon points="222.41,1179.94 227.81,1174.09 233.21,1179.94 227.81,1185.79" fill="#000"/>
<polygon points="247.33,1185.96 252.73,1180.11 258.13,1185.96 252.73,1191.81" fill="#000"/>
<polygon points="272.25,1175.06 277.65,1169.21 283.05,1175.06 277.65,1180.91" fill="#000"/>
<polygon points="297.17,1191.41 302.57,1185.56 307.97,1191.41 302.57,1197.26" fill="#000"/>
<polygon points="322.09,1175.06 327.49,1169.21 332.89,1175.06 327.49,1180.91" fill="#000"/>
<polygon points="347.01,1175.06 352.41,1169.21 357.81,1175.06 352.41,1180.91" fill="#000"/>
<polygon points="371.93,1175.06 377.33,1169.21 382.73,1175.06 377.33,1180.91" fill="#000"/>
<polygon points="396.85,1169.04 402.25,1163.19 407.65,1169.04 402.25,1174.89" fill="#000"/>
<polygon points="421.77,1156.14 427.17,1150.29 432.57,1156.14 427.17,1161.99" fill="#000"/>
<line x1="153.05" y1="1115.98" x2="153.05" y2="1108.24" stroke="#000" stroke-width="1.8" />
<line x1="148.05" y1="1108.24" x2="158.05" y2="1108.24" stroke="#000" stroke-width="1.8" />
<line x1="377.33" y1="1029.94" x2="377.33" y2="1021.05" stroke="#000" stroke-width="1.8" />
<line x1="372.33" y1="1021.05" x2="382.33" y2="1021.05" stroke="#000" stroke-width="1.8" />
<line x1="402.25" y1="1025.07" x2="402.25" y2="1011.01" stroke="#000" stroke-width="1.8" />
<line x1="397.25" y1="1011.01" x2="407.25" y2="1011.01" stroke="#000" stroke-width="1.8" />
<line x1="427.17" y1="1025.07" x2="427.17" y2="1011.01" stroke="#000" stroke-width="1.8" />
<line x1="422.17" y1="1011.01" x2="432.17" y2="1011.01" stroke="#000" stroke-width="1.8" />
<polyline points="59.60,1237.30 103.21,1115.12 128.13,1138.93 153.05,1115.98 177.97,1105.09 202.89,1099.92 227.81,1107.38 252.73,1093.90 277.65,1047.15 302.57,1065.22 327.49,1067.51 352.41,1042.56 377.33,1029.94 402.25,1025.07 427.17,1025.07" fill="none" stroke="#000" stroke-width="2" stroke-linejoin="round"/>
<polygon points="54.59,1237.30 59.60,1231.99 64.61,1237.30 59.60,1242.61" fill="none" stroke="#000" stroke-width="1.7"/>
<polygon points="98.20,1115.12 103.21,1109.81 108.22,1115.12 103.21,1120.43" fill="none" stroke="#000" stroke-width="1.7"/>
<polygon points="123.12,1138.93 128.13,1133.62 133.14,1138.93 128.13,1144.24" fill="none" stroke="#000" stroke-width="1.7"/>
<polygon points="148.04,1115.98 153.05,1110.67 158.06,1115.98 153.05,1121.29" fill="none" stroke="#000" stroke-width="1.7"/>
<polygon points="172.96,1105.09 177.97,1099.78 182.98,1105.09 177.97,1110.40" fill="none" stroke="#000" stroke-width="1.7"/>
<polygon points="197.88,1099.92 202.89,1094.61 207.90,1099.92 202.89,1105.23" fill="none" stroke="#000" stroke-width="1.7"/>
<polygon points="222.80,1107.38 227.81,1102.07 232.82,1107.38 227.81,1112.69" fill="none" stroke="#000" stroke-width="1.7"/>
<polygon points="247.72,1093.90 252.73,1088.59 257.74,1093.90 252.73,1099.21" fill="none" stroke="#000" stroke-width="1.7"/>
<polygon points="272.64,1047.15 277.65,1041.84 282.66,1047.15 277.65,1052.46" fill="none" stroke="#000" stroke-width="1.7"/>
<polygon points="297.56,1065.22 302.57,1059.91 307.58,1065.22 302.57,1070.53" fill="none" stroke="#000" stroke-width="1.7"/>
<polygon points="322.48,1067.51 327.49,1062.20 332.50,1067.51 327.49,1072.82" fill="none" stroke="#000" stroke-width="1.7"/>
<polygon points="347.40,1042.56 352.41,1037.25 357.42,1042.56 352.41,1047.87" fill="none" stroke="#000" stroke-width="1.7"/>
<polygon points="372.32,1029.94 377.33,1024.63 382.34,1029.94 377.33,1035.25" fill="none" stroke="#000" stroke-width="1.7"/>
<polygon points="397.24,1025.07 402.25,1019.76 407.26,1025.07 402.25,1030.38" fill="none" stroke="#000" stroke-width="1.7"/>
<polygon points="422.16,1025.07 427.17,1019.76 432.18,1025.07 427.17,1030.38" fill="none" stroke="#000" stroke-width="1.7"/>
<polyline points="59.60,1237.30 103.21,1105.09 128.13,1115.98 153.05,1076.12 177.97,1042.56 202.89,1037.40 227.81,1042.56 252.73,1042.56 277.65,1042.56 302.57,1042.56 327.49,1042.56 352.41,1042.56 377.33,1042.56 402.25,1042.56 427.17,1042.56" fill="none" stroke="#000" stroke-width="2" stroke-linejoin="round"/>
<rect x="54.65" y="1232.35" width="9.90" height="9.90" rx="0" fill="none" stroke="#000" stroke-width="2.1"/>
<rect x="98.26" y="1100.14" width="9.90" height="9.90" rx="0" fill="none" stroke="#000" stroke-width="2.1"/>
<rect x="123.18" y="1111.03" width="9.90" height="9.90" rx="0" fill="none" stroke="#000" stroke-width="2.1"/>
<rect x="148.10" y="1071.17" width="9.90" height="9.90" rx="0" fill="none" stroke="#000" stroke-width="2.1"/>
<rect x="173.02" y="1037.61" width="9.90" height="9.90" rx="0" fill="none" stroke="#000" stroke-width="2.1"/>
<rect x="197.94" y="1032.45" width="9.90" height="9.90" rx="0" fill="none" stroke="#000" stroke-width="2.1"/>
<rect x="222.86" y="1037.61" width="9.90" height="9.90" rx="0" fill="none" stroke="#000" stroke-width="2.1"/>
<rect x="247.78" y="1037.61" width="9.90" height="9.90" rx="0" fill="none" stroke="#000" stroke-width="2.1"/>
<rect x="272.70" y="1037.61" width="9.90" height="9.90" rx="0" fill="none" stroke="#000" stroke-width="2.1"/>
<rect x="297.62" y="1037.61" width="9.90" height="9.90" rx="0" fill="none" stroke="#000" stroke-width="2.1"/>
<rect x="322.54" y="1037.61" width="9.90" height="9.90" rx="0" fill="none" stroke="#000" stroke-width="2.1"/>
<rect x="347.46" y="1037.61" width="9.90" height="9.90" rx="0" fill="none" stroke="#000" stroke-width="2.1"/>
<rect x="372.38" y="1037.61" width="9.90" height="9.90" rx="0" fill="none" stroke="#000" stroke-width="2.1"/>
<rect x="397.30" y="1037.61" width="9.90" height="9.90" rx="0" fill="none" stroke="#000" stroke-width="2.1"/>
<rect x="422.22" y="1037.61" width="9.90" height="9.90" rx="0" fill="none" stroke="#000" stroke-width="2.1"/>
<line x1="128.13" y1="1066.08" x2="128.13" y2="1049.16" stroke="#000" stroke-width="1.8" />
<line x1="123.13" y1="1049.16" x2="133.13" y2="1049.16" stroke="#000" stroke-width="1.8" />
<line x1="153.05" y1="1051.45" x2="153.05" y2="1037.40" stroke="#000" stroke-width="1.8" />
<line x1="148.05" y1="1037.40" x2="158.05" y2="1037.40" stroke="#000" stroke-width="1.8" />
<line x1="227.81" y1="1108.53" x2="227.81" y2="1088.45" stroke="#000" stroke-width="1.8" />
<line x1="222.81" y1="1088.45" x2="232.81" y2="1088.45" stroke="#000" stroke-width="1.8" />
<line x1="252.73" y1="1095.05" x2="252.73" y2="1078.99" stroke="#000" stroke-width="1.8" />
<line x1="247.73" y1="1078.99" x2="257.73" y2="1078.99" stroke="#000" stroke-width="1.8" />
<line x1="277.65" y1="1079.56" x2="277.65" y2="1065.79" stroke="#000" stroke-width="1.8" />
<line x1="272.65" y1="1065.79" x2="282.65" y2="1065.79" stroke="#000" stroke-width="1.8" />
<line x1="302.57" y1="1051.17" x2="302.57" y2="1039.41" stroke="#000" stroke-width="1.8" />
<line x1="297.57" y1="1039.41" x2="307.57" y2="1039.41" stroke="#000" stroke-width="1.8" />
<line x1="327.49" y1="1071.53" x2="327.49" y2="1057.48" stroke="#000" stroke-width="1.8" />
<line x1="322.49" y1="1057.48" x2="332.49" y2="1057.48" stroke="#000" stroke-width="1.8" />
<line x1="352.41" y1="1065.22" x2="352.41" y2="1054.03" stroke="#000" stroke-width="1.8" />
<line x1="347.41" y1="1054.03" x2="357.41" y2="1054.03" stroke="#000" stroke-width="1.8" />
<polyline points="59.60,1237.30 103.21,1095.05 128.13,1066.08 153.05,1051.45 177.97,1085.87 202.89,1085.87 227.81,1108.53 252.73,1095.05 277.65,1079.56 302.57,1051.17 327.49,1071.53 352.41,1065.22 377.33,1042.56 402.25,1042.56 427.17,1042.56" fill="none" stroke="#000" stroke-width="2" stroke-linejoin="round"/>
<rect x="53.50" y="1231.20" width="12.20" height="12.20" rx="0.8" fill="#000"/>
<rect x="97.11" y="1088.95" width="12.20" height="12.20" rx="0.8" fill="#000"/>
<rect x="122.03" y="1059.98" width="12.20" height="12.20" rx="0.8" fill="#000"/>
<rect x="146.95" y="1045.35" width="12.20" height="12.20" rx="0.8" fill="#000"/>
<rect x="171.87" y="1079.77" width="12.20" height="12.20" rx="0.8" fill="#000"/>
<rect x="196.79" y="1079.77" width="12.20" height="12.20" rx="0.8" fill="#000"/>
<rect x="221.71" y="1102.43" width="12.20" height="12.20" rx="0.8" fill="#000"/>
<rect x="246.63" y="1088.95" width="12.20" height="12.20" rx="0.8" fill="#000"/>
<rect x="271.55" y="1073.46" width="12.20" height="12.20" rx="0.8" fill="#000"/>
<rect x="296.47" y="1045.07" width="12.20" height="12.20" rx="0.8" fill="#000"/>
<rect x="321.39" y="1065.43" width="12.20" height="12.20" rx="0.8" fill="#000"/>
<rect x="346.31" y="1059.12" width="12.20" height="12.20" rx="0.8" fill="#000"/>
<rect x="371.23" y="1036.46" width="12.20" height="12.20" rx="0.8" fill="#000"/>
<rect x="396.15" y="1036.46" width="12.20" height="12.20" rx="0.8" fill="#000"/>
<rect x="421.07" y="1036.46" width="12.20" height="12.20" rx="0.8" fill="#000"/>
<line x1="426.50" y1="1056.50" x2="426.50" y2="1142.50" stroke="#000" stroke-width="2.4" />
<line x1="419.70" y1="1056.50" x2="433.30" y2="1056.50" stroke="#000" stroke-width="2.1" />
<line x1="419.70" y1="1142.50" x2="433.30" y2="1142.50" stroke="#000" stroke-width="2.1" />
<text transform="translate(435.00,1109.50)" font-size="19" text-anchor="middle" stroke="#000" stroke-width="0.1" >*</text>
<line x1="63.45" y1="961.00" x2="78.05" y2="961.00" stroke="#000" stroke-width="1.8" />
<rect x="65.45" y="956.50" width="10.60" height="9.00" rx="1" fill="none" stroke="#000" stroke-width="2.0"/>
<line x1="63.45" y1="978.75" x2="78.05" y2="978.75" stroke="#000" stroke-width="1.8" />
<rect x="64.75" y="973.15" width="12.00" height="11.20" rx="1" fill="#000"/>
<line x1="316.80" y1="960.50" x2="329.80" y2="960.50" stroke="#000" stroke-width="1.8" />
<polygon points="318.99,960.50 323.30,955.94 327.61,960.50 323.30,965.06" fill="none" stroke="#000" stroke-width="1.7"/>
<line x1="316.80" y1="981.00" x2="329.80" y2="981.00" stroke="#000" stroke-width="1.8" />
<polygon points="317.80,981.00 323.30,975.25 328.80,981.00 323.30,986.75" fill="#000"/>
<text y="966" font-size="14.5" stroke="#000" stroke-width="0.35"><tspan x="86" textLength="43.2" lengthAdjust="spacing">Foxp3</tspan><tspan x="129.2" dy="-7" font-size="7.5">+</tspan><tspan x="134" dy="7" textLength="119.3" lengthAdjust="spacing">-depleted T cells</tspan></text>
<text y="984" font-size="14.5" stroke="#000" stroke-width="0.35"><tspan x="86" textLength="43.2" lengthAdjust="spacing">Foxp3</tspan><tspan x="129.2" dy="-7" font-size="7.5">+</tspan><tspan x="134" dy="7" textLength="174.3" lengthAdjust="spacing">-depleted T cells + PTCy</tspan></text>
<text transform="translate(339.00,965.50)" font-size="14.5" text-anchor="start" textLength="94.00" lengthAdjust="spacing" stroke="#000" stroke-width="0.35" >Whole T cells</text>
<text transform="translate(339.00,986.00)" font-size="14.5" text-anchor="start" textLength="149.00" lengthAdjust="spacing" stroke="#000" stroke-width="0.35" >Whole T cells + PTCy</text>
</g>
</g>
</svg></body></html>
